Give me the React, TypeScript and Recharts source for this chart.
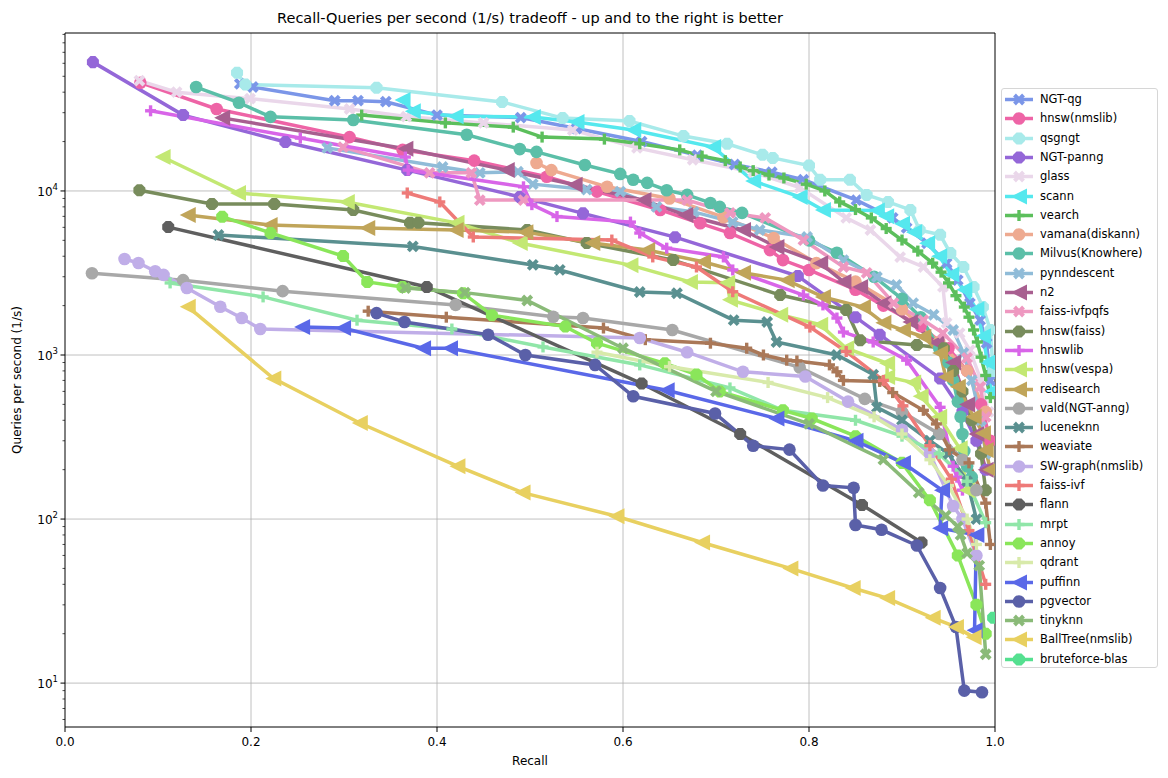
import React from 'react';
import { LineChart, Line, XAxis, YAxis, ReferenceLine } from 'recharts';

type Pt = [number, number];

// ---- data: [recall, queries per second] ----
const ngtQg: Pt[] = [[0.188, 45000], [0.202, 43000], [0.29, 35500], [0.315, 35500], [0.345, 35000], [0.40, 29000], [0.49, 28000], [0.55, 24000], [0.62, 20000], [0.68, 16500], [0.72, 14500], [0.76, 13000], [0.794, 11700], [0.851, 8800], [0.89, 6850], [0.905, 5950], [0.927, 4800], [0.948, 3630], [0.96, 2860], [0.973, 2070], [0.984, 1630], [0.991, 1180], [0.995, 700]];
const hnswNmslib: Pt[] = [[0.081, 45700], [0.163, 31600], [0.306, 21300], [0.363, 17800], [0.44, 15300], [0.518, 12200], [0.572, 9900], [0.64, 7660], [0.683, 6350], [0.715, 5540], [0.758, 4360], [0.772, 3790], [0.80, 3300], [0.85, 2500], [0.88, 2000], [0.92, 1500], [0.95, 1100], [0.97, 800], [0.985, 500], [0.995, 300]];
const qsgngt: Pt[] = [[0.185, 52500], [0.194, 44500], [0.335, 42600], [0.47, 34900], [0.535, 27800], [0.607, 26700], [0.665, 21600], [0.712, 19400], [0.75, 16600], [0.761, 15900], [0.80, 14300], [0.812, 11700], [0.844, 11700], [0.862, 9460], [0.885, 8570], [0.909, 7660], [0.919, 5780], [0.941, 5400], [0.952, 4180], [0.966, 3440], [0.977, 2600], [0.987, 1960], [0.995, 1420], [0.998, 800]];
const ngtPanng: Pt[] = [[0.03, 61000], [0.127, 29000], [0.237, 19900], [0.368, 13400], [0.489, 9200], [0.557, 7300], [0.656, 5230], [0.788, 3030], [0.85, 1700], [0.876, 1330], [0.941, 720], [0.965, 450], [0.98, 300], [0.99, 200]];
const glass: Pt[] = [[0.08, 47000], [0.12, 40000], [0.199, 36500], [0.306, 31600], [0.367, 28400], [0.45, 26000], [0.546, 23500], [0.615, 18300], [0.675, 15500], [0.74, 13000], [0.79, 10500], [0.84, 6850], [0.866, 5780], [0.898, 3950], [0.923, 3440], [0.944, 2600], [0.948, 1570], [0.962, 1360], [0.973, 1070], [0.985, 700], [0.993, 450]];
const scann: Pt[] = [[0.363, 35900], [0.374, 30600], [0.42, 28500], [0.503, 28200], [0.55, 26300], [0.611, 23500], [0.697, 18500], [0.74, 11500], [0.79, 9200], [0.815, 7660], [0.873, 7600], [0.883, 7000], [0.9, 6300], [0.913, 5600], [0.927, 4800], [0.94, 4000], [0.953, 3100], [0.967, 2500], [0.98, 1900], [0.987, 1300], [0.992, 900], [0.996, 600]];
const vearch: Pt[] = [[0.319, 29000], [0.409, 26000], [0.482, 24500], [0.513, 21300], [0.58, 20700], [0.618, 19400], [0.661, 17800], [0.685, 16300], [0.71, 15300], [0.726, 14000], [0.74, 13300], [0.757, 12500], [0.773, 12000], [0.797, 11000], [0.817, 10000], [0.833, 8570], [0.85, 7700], [0.867, 6850], [0.883, 5900], [0.9, 5020], [0.917, 4300], [0.933, 3630], [0.942, 3200], [0.95, 2750], [0.958, 2300], [0.967, 1960], [0.972, 1700], [0.977, 1420], [0.981, 1200], [0.985, 970], [0.99, 750], [0.995, 550]];
const vamana: Pt[] = [[0.507, 14800], [0.523, 13400], [0.583, 10600], [0.65, 9000], [0.708, 6920], [0.762, 5170], [0.808, 3630], [0.85, 2800], [0.9, 1900], [0.94, 1200], [0.97, 800], [0.99, 450]];
const milvus: Pt[] = [[0.141, 43000], [0.187, 34500], [0.221, 28300], [0.31, 27100], [0.432, 22000], [0.489, 18000], [0.507, 17300], [0.559, 14400], [0.597, 12700], [0.611, 11700], [0.626, 11200], [0.647, 10100], [0.669, 9460], [0.694, 8450], [0.704, 8000], [0.728, 7350], [0.80, 5000], [0.83, 4200], [0.87, 3000], [0.9, 2200], [0.92, 1700], [0.94, 1100], [0.95, 900], [0.955, 700], [0.96, 520], [0.963, 420], [0.965, 330], [0.967, 260], [0.97, 210], [0.975, 180]];
const pynndescent: Pt[] = [[0.282, 18300], [0.406, 14000], [0.446, 12900], [0.487, 13100], [0.503, 11000], [0.561, 10200], [0.597, 9900], [0.636, 8000], [0.676, 7450], [0.718, 6460], [0.747, 5780], [0.798, 5240], [0.837, 3790], [0.873, 2990], [0.894, 2670], [0.912, 2070], [0.934, 1760], [0.955, 1420], [0.966, 1030], [0.975, 700], [0.985, 400], [0.99, 250]];
const n2: Pt[] = [[0.169, 27900], [0.366, 18100], [0.475, 13400], [0.548, 10900], [0.622, 8800], [0.667, 7130], [0.729, 5780], [0.765, 4560], [0.812, 3630], [0.837, 2800], [0.855, 2600], [0.88, 2070], [0.909, 1590], [0.937, 1190], [0.955, 900], [0.97, 500], [0.98, 330], [0.99, 200]];
const faissIvfpqfs: Pt[] = [[0.299, 18500], [0.392, 12900], [0.437, 12900], [0.446, 8800], [0.493, 8800], [0.669, 8800], [0.715, 7350], [0.753, 6850], [0.794, 5020], [0.837, 3440], [0.862, 3170], [0.891, 2070], [0.923, 1630], [0.944, 1360], [0.97, 960], [0.984, 640], [0.99, 420]];
const hnswFaiss: Pt[] = [[0.08, 10100], [0.158, 8330], [0.225, 8330], [0.31, 7660], [0.371, 6390], [0.38, 6390], [0.497, 5780], [0.561, 4820], [0.654, 3790], [0.769, 2320], [0.84, 1880], [0.855, 1230], [0.916, 1150], [0.945, 1100], [0.955, 800], [0.965, 600], [0.975, 400], [0.985, 250], [0.99, 150]];
const hnswlib: Pt[] = [[0.092, 30800], [0.253, 21000], [0.366, 16100], [0.369, 13400], [0.493, 10600], [0.502, 8250], [0.529, 6980], [0.608, 6460], [0.618, 5540], [0.647, 4480], [0.708, 3960], [0.718, 3300], [0.794, 2320], [0.815, 2020], [0.83, 1680], [0.837, 1380], [0.869, 1200], [0.905, 930], [0.941, 480], [0.955, 210], [0.959, 180], [0.965, 150]];
const hnswVespa: Pt[] = [[0.105, 16100], [0.186, 9720], [0.303, 8570], [0.421, 6390], [0.489, 4820], [0.608, 3530], [0.672, 2790], [0.712, 2760], [0.715, 2170], [0.769, 1760], [0.812, 1530], [0.84, 1100], [0.884, 890], [0.884, 735], [0.912, 680], [0.92, 560], [0.94, 420], [0.962, 270], [0.97, 150]];
const redisearch: Pt[] = [[0.132, 7130], [0.22, 6200], [0.325, 5950], [0.42, 5780], [0.495, 5610], [0.567, 4820], [0.626, 4360], [0.686, 3700], [0.729, 3170], [0.776, 2860], [0.815, 2260], [0.858, 1960], [0.88, 1570], [0.901, 1420], [0.923, 1290], [0.941, 1030], [0.947, 735], [0.96, 640], [0.977, 420], [0.987, 334], [0.99, 264], [0.995, 200]];
const vald: Pt[] = [[0.029, 3150], [0.127, 2860], [0.234, 2450], [0.42, 2020], [0.525, 1710], [0.557, 1680], [0.653, 1420], [0.79, 840], [0.86, 540], [0.9, 450], [0.94, 330], [0.965, 230], [0.98, 150]];
const luceneknn: Pt[] = [[0.165, 5390], [0.374, 4590], [0.503, 3540], [0.532, 3300], [0.618, 2420], [0.658, 2380], [0.719, 1630], [0.755, 1590], [0.765, 1200], [0.83, 1000], [0.869, 760], [0.873, 480], [0.9, 400], [0.93, 300], [0.95, 250], [0.97, 170], [0.98, 100]];
const weaviate: Pt[] = [[0.326, 1850], [0.41, 1700], [0.579, 1460], [0.624, 1240], [0.694, 1180], [0.733, 1100], [0.751, 1000], [0.776, 930], [0.787, 920], [0.822, 870], [0.83, 790], [0.837, 700], [0.876, 690], [0.89, 590], [0.923, 460], [0.937, 380], [0.951, 264], [0.972, 220], [0.99, 125], [0.995, 70]];
const swGraph: Pt[] = [[0.064, 3850], [0.079, 3640], [0.097, 3240], [0.106, 3080], [0.131, 2560], [0.167, 1970], [0.19, 1680], [0.21, 1440], [0.618, 1270], [0.669, 1040], [0.729, 790], [0.796, 740], [0.842, 520], [0.9, 350], [0.93, 250], [0.955, 120], [0.965, 100], [0.98, 60]];
const faissIvf: Pt[] = [[0.368, 9720], [0.403, 8570], [0.439, 5240], [0.588, 5020], [0.632, 3960], [0.679, 3440], [0.718, 2430], [0.801, 1480], [0.84, 1050], [0.88, 700], [0.901, 490], [0.93, 280], [0.953, 175], [0.972, 85], [0.99, 40]];
const flann: Pt[] = [[0.111, 6020], [0.389, 2600], [0.62, 670], [0.726, 330], [0.857, 122], [0.921, 72]];
const mrpt: Pt[] = [[0.113, 2750], [0.213, 2260], [0.314, 1630], [0.416, 1440], [0.514, 1120], [0.618, 870], [0.715, 630], [0.772, 460], [0.85, 400], [0.9, 320], [0.94, 250], [0.97, 170], [0.99, 95]];
const annoy: Pt[] = [[0.169, 6970], [0.221, 5550], [0.299, 4010], [0.325, 2790], [0.363, 2600], [0.428, 2380], [0.459, 1750], [0.538, 1490], [0.572, 1180], [0.645, 890], [0.679, 760], [0.704, 600], [0.772, 460], [0.803, 410], [0.85, 320], [0.9, 220], [0.93, 130], [0.96, 60], [0.98, 30], [0.99, 20]];
const qdrant: Pt[] = [[0.572, 1040], [0.65, 850], [0.756, 680], [0.82, 550], [0.87, 420], [0.9, 330], [0.93, 230], [0.95, 160], [0.97, 100], [0.98, 70]];
const puffinn: Pt[] = [[0.255, 1480], [0.299, 1460], [0.385, 1100], [0.414, 1100], [0.647, 610], [0.765, 410], [0.85, 300], [0.901, 220], [0.943, 150], [0.941, 88], [0.98, 80], [0.978, 21]];
const pgvector: Pt[] = [[0.335, 1800], [0.365, 1590], [0.455, 1330], [0.495, 1000], [0.57, 870], [0.611, 560], [0.699, 440], [0.74, 280], [0.779, 265], [0.815, 160], [0.848, 155], [0.85, 92], [0.878, 86], [0.916, 69], [0.941, 38], [0.958, 22], [0.967, 9], [0.986, 8.8]];
const tinyknn: Pt[] = [[0.366, 2560], [0.43, 2400], [0.497, 2150], [0.6, 1100], [0.7, 600], [0.8, 380], [0.88, 230], [0.918, 145], [0.947, 105], [0.96, 90], [0.963, 80], [0.97, 62], [0.983, 52], [0.99, 15]];
const ballTree: Pt[] = [[0.132, 1970], [0.224, 720], [0.317, 385], [0.422, 210], [0.492, 145], [0.593, 104], [0.685, 72], [0.78, 50], [0.847, 38], [0.884, 33], [0.933, 25], [0.958, 22], [0.977, 19]];
const bruteforceBlas: Pt[] = [[0.998, 25]];

const SERIES_NAMES = ['NGT-qg', 'hnsw(nmslib)', 'qsgngt', 'NGT-panng', 'glass', 'scann', 'vearch', 'vamana(diskann)', 'Milvus(Knowhere)', 'pynndescent', 'n2', 'faiss-ivfpqfs', 'hnsw(faiss)', 'hnswlib', 'hnsw(vespa)', 'redisearch', 'vald(NGT-anng)', 'luceneknn', 'weaviate', 'SW-graph(nmslib)', 'faiss-ivf', 'flann', 'mrpt', 'annoy', 'qdrant', 'puffinn', 'pgvector', 'tinyknn', 'BallTree(nmslib)', 'bruteforce-blas'];
const SERIES_DATA: Pt[][] = [ngtQg, hnswNmslib, qsgngt, ngtPanng, glass, scann, vearch, vamana, milvus, pynndescent, n2, faissIvfpqfs, hnswFaiss, hnswlib, hnswVespa, redisearch, vald, luceneknn, weaviate, swGraph, faissIvf, flann, mrpt, annoy, qdrant, puffinn, pgvector, tinyknn, ballTree, bruteforceBlas];

// ---- styles ----
const COLORS = ['#7b96e8', '#ee64a6', '#a8eaea', '#9467d8', '#ead7ea', '#55e8ee', '#5cbf5c', '#eeaa90', '#5bbfa8', '#90bcd8', '#a85f90', '#ee98c0', '#788c5c', '#d865e8', '#c3e873', '#c0a55a', '#a8a8a8', '#5a9090', '#aa7858', '#c0aee8', '#ee7a78', '#5f5f5f', '#90e6a8', '#8ae65a', '#d8eaaa', '#5a68e8', '#5a60a8', '#8aba78', '#e8d060', '#55e090'];
const MARKERS = ['x', 'o', 'h', 'h', 'x', '<', '+', 'o', 'o', 'x', '<', 'x', 'h', '+', '<', '<', 'o', 'x', '+', 'o', '+', 'h', '+', 'h', '+', '<', 'o', 'x', '<', 'h'];

const X_TICKS = [0, 0.2, 0.4, 0.6, 0.8, 1.0];
const Y_MAJOR = [10, 100, 1000, 10000];
const Y_TICKS = [6, 7, 8, 9, 10, 20, 30, 40, 50, 60, 70, 80, 90, 100, 200, 300, 400, 500, 600, 700, 800, 900, 1000, 2000, 3000, 4000, 5000, 6000, 7000, 8000, 9000, 10000, 20000, 30000, 40000, 50000, 60000, 70000, 80000, 90000];
const Y_DOMAIN: [number, number] = [5.4, 91800];

const FONT = '"DejaVu Sans", Verdana, sans-serif';

function MarkerShape({ cx, cy, kind, color }: { cx: number; cy: number; kind: string; color: string }) {
  if (cx == null || cy == null || isNaN(cx) || isNaN(cy)) return null;
  if (kind === 'o') return <circle cx={cx} cy={cy} r={6.3} fill={color} />;
  if (kind === 'h') {
    const r = 6.5;
    const pts: string[] = [];
    for (let k = 0; k < 8; k++) {
      const a = (Math.PI / 8) + (k * Math.PI) / 4;
      pts.push(`${cx + r * Math.cos(a)},${cy + r * Math.sin(a)}`);
    }
    return <polygon points={pts.join(' ')} fill={color} />;
  }
  if (kind === 'x') {
    const s = 4.5;
    return (
      <g stroke={color} strokeWidth={4}>
        <line x1={cx - s} y1={cy - s} x2={cx + s} y2={cy + s} />
        <line x1={cx - s} y1={cy + s} x2={cx + s} y2={cy - s} />
      </g>
    );
  }
  if (kind === '+') {
    const s = 5.5;
    return (
      <g stroke={color} strokeWidth={3.4}>
        <line x1={cx - s} y1={cy} x2={cx + s} y2={cy} />
        <line x1={cx} y1={cy - s} x2={cx} y2={cy + s} />
      </g>
    );
  }
  const s = 8;
  return <polygon points={`${cx - s},${cy} ${cx + s},${cy - s} ${cx + s},${cy + s}`} fill={color} />;
}

function YTick(props: any) {
  const { x, y, payload } = props;
  const v = payload.value as number;
  const lg = Math.log10(v);
  const major = Math.abs(lg - Math.round(lg)) < 1e-6;
  if (!major) return <line x1={x - 2.5} x2={x} y1={y} y2={y} stroke="#000" strokeWidth={0.7} />;
  return (
    <g>
      <line x1={x - 4.5} x2={x} y1={y} y2={y} stroke="#000" strokeWidth={1} />
      <text x={x - 7} y={y + 5} textAnchor="end" fontSize={12} fill="#000" fontFamily={FONT}>
        10<tspan dy={-6} fontSize={8.5}>{Math.round(lg)}</tspan>
      </text>
    </g>
  );
}

function XTick(props: any) {
  const { x, y, payload } = props;
  return (
    <text x={x} y={y + 13.5} textAnchor="middle" fontSize={12} fill="#000" fontFamily={FONT}>
      {(payload.value as number).toFixed(1)}
    </text>
  );
}

export default function App() {
  const series = SERIES_NAMES.map((name, i) => ({
    name,
    color: COLORS[i],
    marker: MARKERS[i],
    data: SERIES_DATA[i].map(([x, y]) => ({ x, y })),
  }));

  return (
    <div style={{ position: 'absolute', left: 0, top: 0, width: 1168, height: 778, background: '#fff', fontFamily: FONT }}>
      <LineChart width={1168} height={778} margin={{ top: 33, right: 173, bottom: 0, left: 0 }}>
        <XAxis
          dataKey="x"
          type="number"
          domain={[0, 1]}
          ticks={X_TICKS}
          interval={0}
          height={51}
          tick={<XTick />}
          tickSize={5}
          tickMargin={0}
          tickLine={{ stroke: '#000', strokeWidth: 1 }}
          axisLine={{ stroke: '#000', strokeWidth: 1 }}
          allowDataOverflow
        />
        <YAxis
          dataKey="y"
          type="number"
          scale="log"
          domain={Y_DOMAIN}
          ticks={Y_TICKS}
          interval={0}
          width={65}
          tick={<YTick />}
          tickSize={0}
          tickMargin={0}
          tickLine={false}
          axisLine={{ stroke: '#000', strokeWidth: 1 }}
          allowDataOverflow
        />
        {Y_MAJOR.map((v) => (
          <ReferenceLine key={`gy${v}`} y={v} stroke="#b0b0b0" strokeWidth={0.8} />
        ))}
        {X_TICKS.slice(1, -1).map((v) => (
          <ReferenceLine key={`gx${v}`} x={v} stroke="#b0b0b0" strokeWidth={0.8} />
        ))}
        {series.map((s, i) => (
          <Line
            key={s.name}
            name={s.name}
            data={s.data}
            dataKey="y"
            type="linear"
            stroke={s.color}
            strokeWidth={3.5}
            isAnimationActive={false}
            activeDot={false}
            dot={(p: any) => <MarkerShape key={`m${i}-${p.index}`} cx={p.cx} cy={p.cy} kind={s.marker} color={s.color} />}
          />
        ))}
        <ReferenceLine y={Y_DOMAIN[1]} stroke="#000" strokeWidth={1} />
        <ReferenceLine x={1} stroke="#000" strokeWidth={1} />
      </LineChart>

      <svg width={1168} height={778} style={{ position: 'absolute', left: 0, top: 0, pointerEvents: 'none' }}>
        <text x={530} y={23} textAnchor="middle" fontSize={14.5} fontFamily={FONT} fill="#000">
          Recall-Queries per second (1/s) tradeoff - up and to the right is better
        </text>
        <text x={530} y={765} textAnchor="middle" fontSize={12} fontFamily={FONT} fill="#000">Recall</text>
        <text x={20.5} y={380} textAnchor="middle" fontSize={12} fontFamily={FONT} fill="#000" transform="rotate(-90 20.5 380)">
          Queries per second (1/s)
        </text>
      </svg>

      <div style={{ position: 'absolute', left: 1001, top: 88, width: 157, height: 580, border: '1px solid #d6d6d6', borderRadius: 3, background: 'rgba(255,255,255,0.8)', boxSizing: 'border-box' }}>
        {series.map((s, i) => (
          <div key={s.name} style={{ position: 'absolute', left: 0, top: 1 + i * 19.3, height: 19, width: 155, display: 'flex', alignItems: 'center' }}>
            <svg width={38} height={19} style={{ flex: 'none' }}>
              <line x1={3} x2={31} y1={9.5} y2={9.5} stroke={s.color} strokeWidth={3.5} />
              <MarkerShape cx={17} cy={9.5} kind={s.marker} color={s.color} />
            </svg>
            <span style={{ fontSize: 11.5, fontFamily: FONT, color: '#000', whiteSpace: 'nowrap', lineHeight: '19px' }}>{s.name}</span>
          </div>
        ))}
      </div>
    </div>
  );
}
